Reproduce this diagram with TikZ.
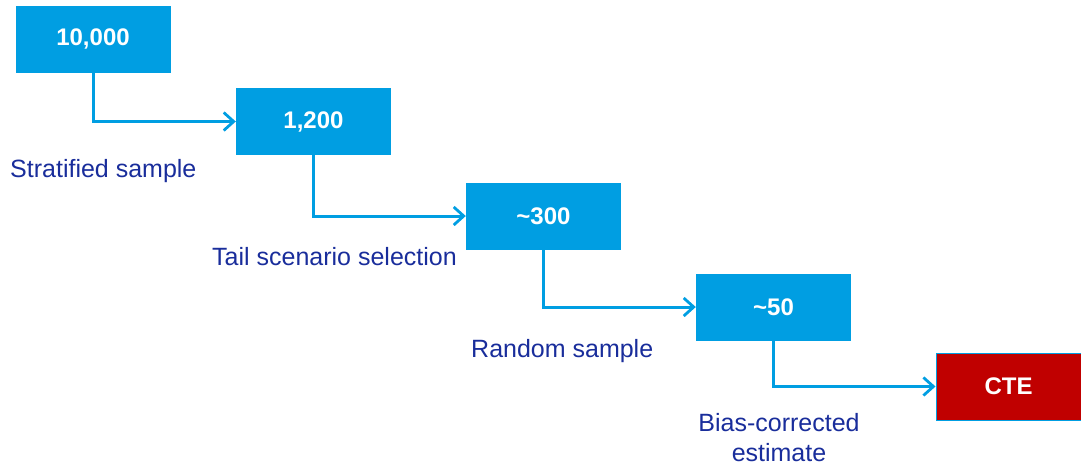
\documentclass[tikz,border=0pt]{standalone}
\usepackage{fontspec}
\setmainfont{Liberation Sans}
\usetikzlibrary{arrows.meta}
\definecolor{boxblue}{RGB}{0,158,226}
\definecolor{labelblue}{RGB}{25,45,155}
\definecolor{ctered}{RGB}{192,0,0}
\tikzset{
  stage/.style={fill=boxblue, draw=none, minimum width=155pt, minimum height=67pt,
    inner sep=0pt, text=white, font=\fontsize{24}{28}\selectfont\bfseries},
  result/.style={fill=ctered, draw=boxblue, line width=1pt, minimum width=145pt,
    minimum height=67pt, inner sep=0pt, text=white, font=\fontsize{24}{28}\selectfont\bfseries},
  flow/.style={draw=boxblue, line width=3pt,
    -{Straight Barb[length=10pt, width=18pt, line width=2.8pt]}},
  steplabel/.style={text=labelblue, font=\fontsize{25}{30}\selectfont, inner sep=0pt}
}
\begin{document}
\begin{tikzpicture}[x=1pt, y=-1pt]
  \useasboundingbox (0,0) rectangle (1081,466);
  % stages of the sampling funnel
  \node[stage]  (n1) at (93,39)    {10,000};
  \node[stage]  (n2) at (313.5,121.5) {1,200};
  \node[stage]  (n3) at (543.5,216) {\textasciitilde300};
  \node[stage]  (n4) at (773.5,307) {\textasciitilde50};
  \node[result] (n5) at (1008.5,386.5) {CTE};
  % connectors: down from each box, then across to the next
  \draw[flow] (n1.south) |- (n2.west);
  \draw[flow] (n2.south) |- (n3.west);
  \draw[flow] (n3.south) |- (n4.west);
  \draw[flow] (n4.south) |- (n5.west);
  % step descriptions
  \node[steplabel, anchor=base west] (l1) at (10,177)  {Stratified sample};
  \node[steplabel, anchor=base west] (l2) at (212,265) {Tail scenario selection};
  \node[steplabel, anchor=base west] (l3) at (471,357) {Random sample};
  \node[steplabel, anchor=base, align=center] (l4) at (779,461) {Bias-corrected\\estimate};
\end{tikzpicture}
\end{document}
